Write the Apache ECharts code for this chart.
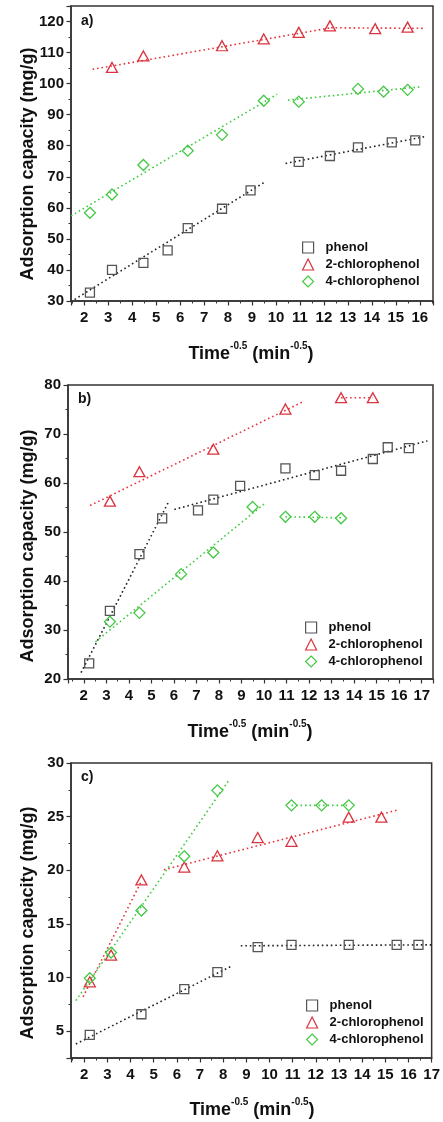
<!DOCTYPE html>
<html>
<head>
<meta charset="utf-8">
<script src="https://cdn.jsdelivr.net/npm/echarts@6/dist/echarts.min.js"></script>
<style>
html,body{margin:0;padding:0;background:#fff;}
#c{width:443px;height:1122px;}
</style>
</head>
<body>
<div id="c"></div>
<script>
// ---------------- DATA ----------------
const seriesNames = ['phenol', '2-chlorophenol', '4-chlorophenol'];
const panelLetters = ['a)', 'b)', 'c)'];

// Panel a
const aPhenolX = [2.24, 3.16, 4.47, 5.48, 6.32, 7.75, 8.94, 10.95, 12.25, 13.42, 14.83, 15.81];
const aPhenolY = [32.7, 40.0, 42.3, 46.3, 53.5, 59.7, 65.6, 74.8, 76.7, 79.5, 81.1, 81.7];
const aChloro2X = [3.16, 4.47, 7.75, 9.49, 10.95, 12.25, 14.14, 15.49];
const aChloro2Y = [105.2, 108.9, 112.2, 114.4, 116.5, 118.6, 117.7, 118.2];
const aChloro4X = [2.24, 3.16, 4.47, 6.32, 7.75, 9.49, 10.95, 13.42, 14.49, 15.49];
const aChloro4Y = [58.4, 64.3, 73.8, 78.4, 83.5, 94.5, 94.2, 98.3, 97.4, 98.0];
const aPhenolFits = [[[1.6, 30.5], [9.55, 68.4]], [[10.4, 74.3], [16.2, 82.9]]];
const aChloro2Fits = [[[2.35, 104.6], [12.3, 118.0]], [[12.3, 118.0], [16.2, 117.8]]];
const aChloro4Fits = [[[1.45, 57.4], [10.05, 96.6]], [[10.5, 94.7], [16.06, 99.0]]];

// Panel b
const bPhenolX = [2.24, 3.16, 4.47, 5.48, 7.07, 7.75, 8.94, 10.95, 12.25, 13.42, 14.83, 15.49, 16.43];
const bPhenolY = [23.2, 33.9, 45.5, 52.8, 54.4, 56.6, 59.4, 63.0, 61.6, 62.5, 64.9, 67.3, 67.1];
const bChloro2X = [3.16, 4.47, 7.75, 10.95, 13.42, 14.83];
const bChloro2Y = [56.3, 62.3, 66.9, 75.1, 77.4, 77.4];
const bChloro4X = [3.16, 4.47, 6.32, 7.75, 9.49, 10.95, 12.25, 13.42];
const bChloro4Y = [31.7, 33.5, 41.4, 45.8, 55.1, 53.1, 53.1, 52.8];
const bPhenolFits = [[[1.88, 21.3], [5.77, 56.2]], [[6.02, 54.6], [17.25, 68.6]]];
const bChloro2Fits = [[[2.28, 55.4], [11.74, 76.6]], [[13.42, 77.4], [14.83, 77.4]]];
const bChloro4Fits = [[[2.52, 27.6], [10.08, 56.0]], [[10.95, 53.1], [13.42, 52.9]]];

// Panel c
const cPhenolX = [2.24, 4.47, 6.32, 7.75, 9.49, 10.95, 13.42, 15.49, 16.43];
const cPhenolY = [4.65, 6.58, 8.92, 10.5, 12.84, 13.05, 13.05, 13.05, 13.05];
const cChloro2X = [2.24, 3.16, 4.47, 6.32, 7.75, 9.49, 10.95, 13.42, 14.83];
const cChloro2Y = [9.6, 12.1, 19.1, 20.3, 21.35, 23.05, 22.7, 24.95, 24.95];
const cChloro4X = [2.24, 3.16, 4.47, 6.32, 7.75, 10.95, 12.25, 13.42];
const cChloro4Y = [9.94, 12.33, 16.25, 21.3, 27.45, 26.05, 26.05, 26.05];
const cPhenolFits = [[[1.64, 3.81], [8.33, 11.03]], [[8.76, 12.96], [17.0, 13.05]]];
const cChloro2Fits = [[[1.95, 8.2], [4.45, 18.9]], [[5.44, 20.05], [15.57, 25.64]]];
const cChloro4Fits = [[[1.64, 7.85], [8.26, 28.44]], [[10.95, 26.05], [13.42, 26.05]]];

// Axis ranges / ticks
const xRanges = [[1.45, 16.55], [1.3, 17.5], [1.43, 17.0]];
const yRanges = [[30, 125], [20, 80], [2.5, 30]];
const yTickSteps = [10, 10, 5];
const xTitle = '{m|Time}{s|-0.5}{m| (min}{s|-0.5}{m|)}';
const yTitle = 'Adsorption capacity (mg/g)';

// ---------------- LAYOUT / STYLE ----------------
const grids = [
  {left: 71, right: 10, top: 6, bottom: 821},
  {left: 68, right: 10, top: 385, bottom: 443},
  {left: 71, right: 10, top: 763, bottom: 64}
];
const legendPos = [{left: 297, top: 236}, {left: 300, top: 616}, {left: 301, top: 994}];
const yTitlePos = [164, 546, 923];
const xTitlePos = [[251, 352], [250, 730], [252, 1108]];
const markerColors = ['#555555', '#d9343f', '#45c845'];
const lineColors = ['#222222', '#e8323c', '#3fcc3f'];
const symbols = ['rect', 'triangle', 'diamond'];
const symbolSizes = [[9, 9], [11, 10], [11, 11]];
const FONT = 'Liberation Sans, Arial, sans-serif';

const panels = [
  {pts: [[aPhenolX, aPhenolY], [aChloro2X, aChloro2Y], [aChloro4X, aChloro4Y]], fits: [aPhenolFits, aChloro2Fits, aChloro4Fits]},
  {pts: [[bPhenolX, bPhenolY], [bChloro2X, bChloro2Y], [bChloro4X, bChloro4Y]], fits: [bPhenolFits, bChloro2Fits, bChloro4Fits]},
  {pts: [[cPhenolX, cPhenolY], [cChloro2X, cChloro2Y], [cChloro4X, cChloro4Y]], fits: [cPhenolFits, cChloro2Fits, cChloro4Fits]}
];

const isInt = v => Math.abs(v - Math.round(v)) < 1e-6;
const keyOf = (n, pi) => n + '#' + pi;

const option = {
  backgroundColor: '#fff',
  animation: false,
  grid: grids.map(g => Object.assign({show: true, borderColor: '#333', borderWidth: 1.5, backgroundColor: 'transparent'}, g)),
  xAxis: xRanges.map((r, i) => ({
    type: 'value', gridIndex: i, min: r[0], max: r[1],
    minInterval: 1, maxInterval: 1, splitNumber: 15,
    splitLine: {show: false},
    axisLine: {lineStyle: {color: '#333', width: 1.5}},
    axisTick: {length: 4.5, lineStyle: {color: '#333', width: 1.2}},
    minorTick: {show: true, splitNumber: 2, length: 2.5, lineStyle: {color: '#333', width: 1}},
    axisLabel: {interval: 0, margin: 9, color: '#111', fontFamily: FONT, fontWeight: 'bold', fontSize: 15,
      formatter: v => isInt(v) ? String(Math.round(v)) : ''}
  })),
  yAxis: yRanges.map((r, i) => ({
    type: 'value', gridIndex: i, min: r[0], max: r[1],
    minInterval: yTickSteps[i], maxInterval: yTickSteps[i], splitNumber: 6,
    splitLine: {show: false},
    axisLine: {show: true, lineStyle: {color: '#333', width: 1.5}},
    axisTick: {length: 4.5, lineStyle: {color: '#333', width: 1.2}},
    minorTick: {show: true, splitNumber: 2, length: 2.5, lineStyle: {color: '#333', width: 1}},
    axisLabel: {margin: 7, color: '#111', fontFamily: FONT, fontWeight: 'bold', fontSize: 15,
      formatter: v => (Math.abs(v / yTickSteps[i] - Math.round(v / yTickSteps[i])) < 1e-6) ? String(Math.round(v)) : ''}
  })),
  legend: legendPos.map((p, pi) => ({
    left: p.left, top: p.top, orient: 'vertical', itemGap: 4, itemWidth: 11, itemHeight: 11,
    selectedMode: false,
    data: seriesNames.map((n, i) => ({
      name: keyOf(n, pi), icon: symbols[i],
      itemStyle: {color: '#ffffff', borderColor: markerColors[i], borderWidth: 1.2}
    })),
    formatter: name => name.split('#')[0],
    textStyle: {fontFamily: FONT, fontWeight: 'bold', fontSize: 13, color: '#111', padding: [0, 0, 0, 7]}
  })),
  graphic: [],
  series: []
};

panels.forEach((p, pi) => {
  p.fits.forEach((segs, si) => {
    segs.forEach(seg => {
      option.series.push({
        type: 'line', name: 'fit', xAxisIndex: pi, yAxisIndex: pi,
        data: seg, symbol: 'none', silent: true, z: 1,
        lineStyle: {color: lineColors[si], width: 1.6, type: [1.6, 2.9]}
      });
    });
  });
  p.pts.forEach((xy, si) => {
    option.series.push({
      type: 'scatter', name: keyOf(seriesNames[si], pi), xAxisIndex: pi, yAxisIndex: pi,
      data: xy[0].map((x, k) => [x, xy[1][k]]),
      symbol: symbols[si], symbolSize: symbolSizes[si], z: 3,
      itemStyle: {color: 'rgba(255,255,255,0)', borderColor: markerColors[si], borderWidth: 1.3, opacity: 1}
    });
  });
  option.graphic.push({
    type: 'text', left: grids[pi].left + 10, top: (pi === 0 ? 14 : pi === 1 ? 392 : 770),
    style: {text: panelLetters[pi], font: 'bold 14px ' + FONT, fill: '#111'}
  });
  option.graphic.push({
    type: 'text', x: 28, y: yTitlePos[pi], rotation: Math.PI / 2,
    style: {text: yTitle, font: 'bold 18px ' + FONT, fill: '#111', align: 'center', verticalAlign: 'middle'}
  });
  option.graphic.push({
    type: 'text', x: xTitlePos[pi][0], y: xTitlePos[pi][1],
    style: {text: xTitle, align: 'center', verticalAlign: 'middle', fill: '#111',
      rich: {
        m: {fontFamily: FONT, fontWeight: 'bold', fontSize: 18, lineHeight: 22, verticalAlign: 'bottom', fill: '#111'},
        s: {fontFamily: FONT, fontWeight: 'bold', fontSize: 10, lineHeight: 22, verticalAlign: 'top', fill: '#111', padding: [0, 0, 12, 0]}
      }}
  });
});

const chart = echarts.init(document.getElementById('c'), null, {renderer: 'canvas'});
chart.setOption(option);
</script>
</body>
</html>
